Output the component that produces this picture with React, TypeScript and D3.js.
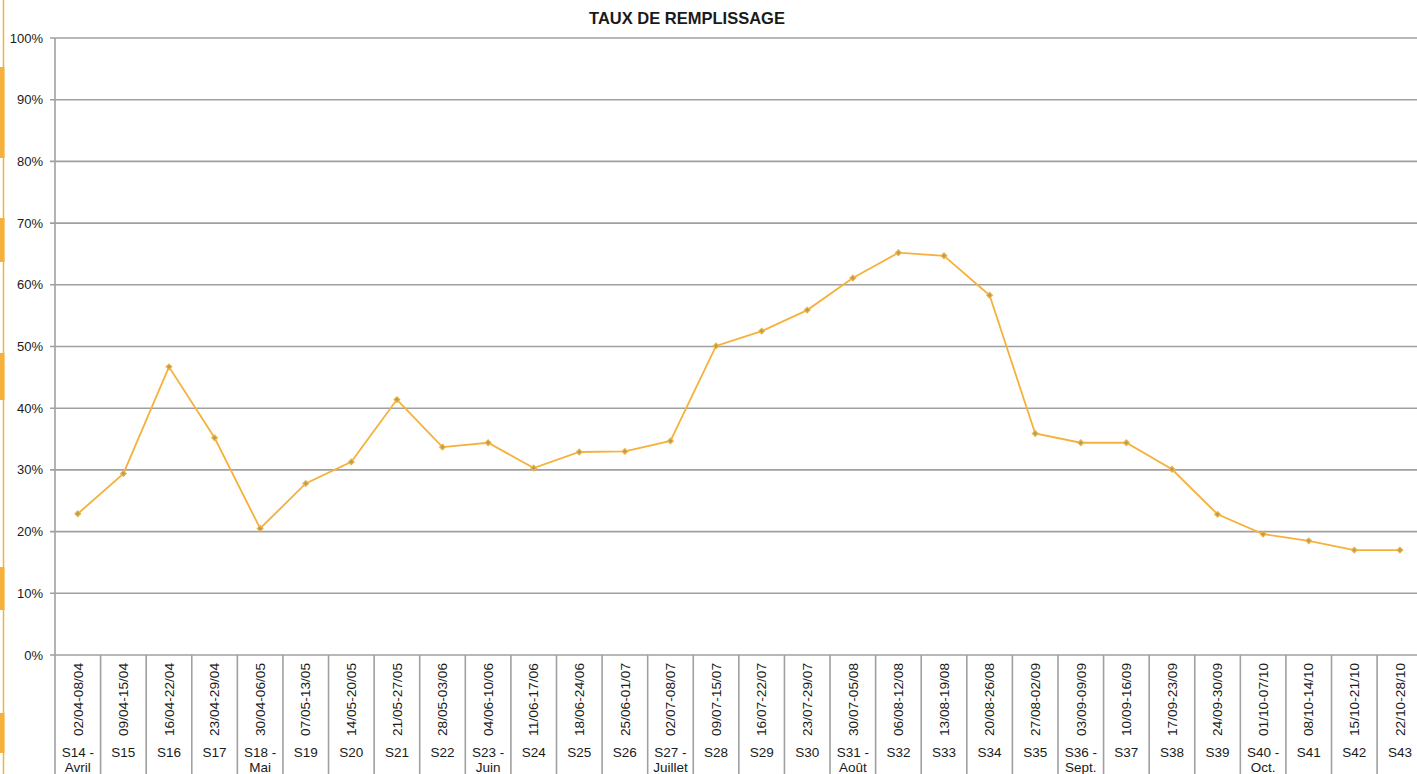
import React from "react";
import * as d3 from "d3";

const title = "TAUX DE REMPLISSAGE";
const weeks = [
  "S14 - Avril", "S15", "S16", "S17", "S18 - Mai", "S19", "S20", "S21", "S22", "S23 - Juin",
  "S24", "S25", "S26", "S27 - Juillet", "S28", "S29", "S30", "S31 - Août", "S32", "S33",
  "S34", "S35", "S36 - Sept.", "S37", "S38", "S39", "S40 - Oct.", "S41", "S42", "S43",
];
const dates = [
  "02/04-08/04", "09/04-15/04", "16/04-22/04", "23/04-29/04", "30/04-06/05", "07/05-13/05",
  "14/05-20/05", "21/05-27/05", "28/05-03/06", "04/06-10/06", "11/06-17/06", "18/06-24/06",
  "25/06-01/07", "02/07-08/07", "09/07-15/07", "16/07-22/07", "23/07-29/07", "30/07-05/08",
  "06/08-12/08", "13/08-19/08", "20/08-26/08", "27/08-02/09", "03/09-09/09", "10/09-16/09",
  "17/09-23/09", "24/09-30/09", "01/10-07/10", "08/10-14/10", "15/10-21/10", "22/10-28/10",
];
const rates = [
  22.9, 29.4, 46.7, 35.2, 20.5, 27.8, 31.3, 41.4, 33.7, 34.4,
  30.3, 32.9, 33.0, 34.7, 50.1, 52.5, 55.9, 61.1, 65.2, 64.7,
  58.3, 35.9, 34.4, 34.4, 30.1, 22.8, 19.6, 18.5, 17.0, 17.0,
];
const yTicks = [0, 10, 20, 30, 40, 50, 60, 70, 80, 90, 100];
// decorative orange page-edge segments [y0, y1]
const edgeSegments = [[67, 158], [218, 262], [353, 400], [567, 610], [713, 753]];

const W = 1417;
const H = 774;
const left = 55;
const bandW = 45.59;
const top = 38;
const bottom = 655;
const FONT = "'Liberation Sans', Arial, sans-serif";
const GRID = "#a0a0a0";
const ORANGE = "#f5b13c";
const TEXT = "#1a1a1a";

export default function App() {
  const x = d3.scaleBand<number>().domain(d3.range(weeks.length)).range([left, left + bandW * weeks.length]).padding(0);
  const y = d3.scaleLinear().domain([0, 100]).range([bottom, top]);
  const cx = (i: number) => (x(i) as number) + x.bandwidth() / 2;
  const line = d3.line<number>().x((_, i) => cx(i)).y((d) => y(d));
  const marker = d3.symbol().type(d3.symbolSquare).size(16)();

  return (
    <div style={{ position: "fixed", left: 0, top: 0 }}>
      <svg width={W} height={H} style={{ display: "block", background: "#fff" }} fontFamily={FONT}>
        <rect x={0} y={0} width={W} height={H} fill="#fff" />
        {/* orange page edge */}
        <line x1={3.5} x2={3.5} y1={0} y2={H} stroke={ORANGE} strokeWidth={1.5} />
        {edgeSegments.map(([a, b], i) => (
          <rect key={i} x={0} y={a} width={4.5} height={b - a} fill={ORANGE} />
        ))}
        {/* title */}
        <text x={687} y={24} textAnchor="middle" fontSize={16.5} fontWeight="bold" fill={TEXT}>{title}</text>
        {/* grid lines & y ticks */}
        {yTicks.map((t) => (
          <g key={t}>
            <line x1={left - 5} x2={W} y1={y(t)} y2={y(t)} stroke={GRID} strokeWidth={1.6} />
            <text x={43} y={y(t)} dy="0.35em" textAnchor="end" fontSize={13} fill={TEXT}>{t}%</text>
          </g>
        ))}
        {/* y axis */}
        <line x1={left} x2={left} y1={top} y2={H} stroke={GRID} strokeWidth={1.6} />
        {/* category separators */}
        {weeks.map((_, i) => (
          <line key={i} x1={(x(i) as number) + bandW} x2={(x(i) as number) + bandW} y1={bottom} y2={H} stroke={GRID} strokeWidth={1.6} />
        ))}
        {/* date labels */}
        {dates.map((d, i) => (
          <text key={d} transform={`translate(${cx(i)},663) rotate(-90)`} dy="0.35em" textAnchor="end" fontSize={13.5} textLength={73} lengthAdjust="spacingAndGlyphs" fill={TEXT}>{d}</text>
        ))}
        {/* week labels */}
        {weeks.map((w, i) => {
          const parts = w.split(" - ");
          return (
            <text key={w} x={cx(i)} y={757} textAnchor="middle" fontSize={13.5} fill={TEXT}>
              <tspan x={cx(i)}>{parts.length > 1 ? parts[0] + " -" : parts[0]}</tspan>
              {parts.length > 1 && <tspan x={cx(i)} dy={14.5}>{parts[1]}</tspan>}
            </text>
          );
        })}
        {/* series */}
        <path d={line(rates) || ""} fill="none" stroke={ORANGE} strokeWidth={1.8} />
        {rates.map((r, i) => (
          <path key={i} d={marker || ""} transform={`translate(${cx(i)},${y(r)}) rotate(45)`} fill="#a8a060" stroke={ORANGE} strokeWidth={1.2} />
        ))}
      </svg>
    </div>
  );
}
